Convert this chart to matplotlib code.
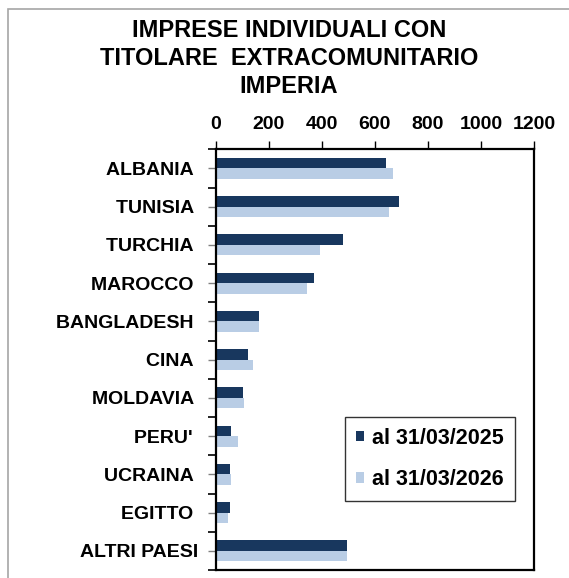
import matplotlib
matplotlib.use("Agg")
import matplotlib.pyplot as plt
import numpy as np
from matplotlib.patches import Patch, Rectangle

plt.rcParams['font.family'] = ['Liberation Sans', 'DejaVu Sans']
plt.rcParams['font.weight'] = 'bold'

categories = ["ALBANIA ", "TUNISIA ", "TURCHIA ", "MAROCCO ", "BANGLADESH ", "CINA ",
              "MOLDAVIA ", "PERU' ", "UCRAINA ", "EGITTO ", "ALTRI PAESI"]
values_2025 = [643, 693, 482, 370, 165, 121, 103, 59, 54, 54, 494]
values_2026 = [668, 655, 394, 345, 165, 140, 108, 84, 59, 46, 494]
series_labels = ["al 31/03/2025", "al 31/03/2026"]
x_ticks = [0, 200, 400, 600, 800, 1000, 1200]
title_lines = ["IMPRESE INDIVIDUALI CON", "TITOLARE  EXTRACOMUNITARIO", "IMPERIA"]

dark = "#18375E"
light = "#B9CDE5"

W, H = 569, 578
fig = plt.figure(figsize=(W / 100, H / 100), dpi=100)
fig.patch.set_facecolor("white")

# outer border (left and top visible)
fig.patches.append(Rectangle((8 / W, -0.2), 1.5, (H - 9) / H + 0.2, transform=fig.transFigure,
                             fill=False, edgecolor="#A6A6A6", linewidth=1.2))

left, right, top, bottom = 215.5, 534, 149.3, 570
ax = fig.add_axes([left / W, (H - bottom) / H, (right - left) / W, (bottom - top) / H])

y = np.arange(len(categories))
h = 0.275
ax.barh(y - h / 2, values_2025, height=h, color=dark, label=series_labels[0])
ax.barh(y + h / 2, values_2026, height=h, color=light, label=series_labels[1])

ax.set_xlim(0, 1200)
ax.set_ylim(len(categories) - 0.5, -0.5)
ax.xaxis.tick_top()
ax.set_xticks(x_ticks)
ax.set_xticklabels([str(v) for v in x_ticks], fontsize=14, fontweight='bold')
ax.tick_params(axis='x', length=6, width=1, pad=5.5, colors='black')

ax.set_yticks(np.arange(len(categories) + 1) - 0.5)
ax.set_yticklabels([])
ax.set_yticks(y, minor=True)
ax.set_yticklabels(categories, minor=True, fontsize=14, fontweight='bold')
ax.tick_params(axis='y', which='major', length=6, width=1.2, color='black')
ax.tick_params(axis='y', which='minor', length=6, width=1, color='#808080', pad=6.3)

for s in ax.spines.values():
    s.set_linewidth(1.6)
    s.set_color('black')

handles = [Patch(facecolor=dark), Patch(facecolor=light)]
leg = ax.legend(handles, series_labels, loc='upper left',
                bbox_to_anchor=(345 / W, (H - 417) / H), bbox_transform=fig.transFigure,
                prop={'family': 'Liberation Sans', 'weight': 'bold', 'size': 15.5},
                handlelength=0.36, handleheight=0.36, handletextpad=0.4,
                borderpad=0.5, labelspacing=0.95, fancybox=False, framealpha=1,
                borderaxespad=0)
leg.get_frame().set_edgecolor('#333333')
leg.get_frame().set_linewidth(1.0)

baselines = [37, 65, 93]
for line, b in zip(title_lines, baselines):
    fig.text(289 / W, (H - b) / H, line, ha='center', va='baseline',
             fontsize=17, fontweight='bold', color='black')

fig.savefig("out.png", dpi=100, facecolor="white")
